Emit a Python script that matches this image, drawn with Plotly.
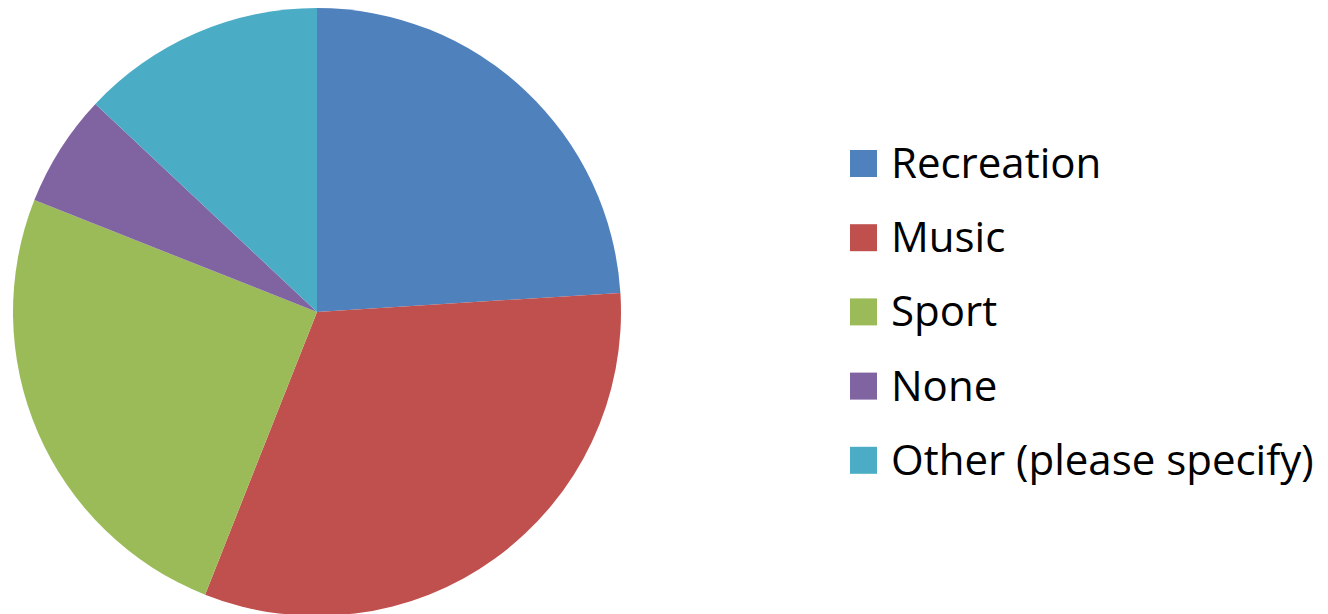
import plotly.graph_objects as go

labels = ["Recreation", "Music", "Sport", "None", "Other (please specify)"]
values = [24, 32, 25, 6, 13]
colors = ["#4F81BD", "#C0504D", "#9BBB59", "#8064A2", "#4BACC6"]

W, H = 1328, 614
OFF = 8  # page body margin offset

def px_x(x):
    return (x - OFF) / W

def px_y(y):
    return 1 - (y - OFF) / H

fig = go.Figure(go.Pie(
    labels=labels,
    values=values,
    sort=False,
    direction="clockwise",
    rotation=0,
    textinfo="none",
    hoverinfo="label+percent",
    marker=dict(colors=colors, line=dict(width=0)),
    domain=dict(x=[px_x(13), px_x(621)], y=[px_y(616), px_y(8)]),
    showlegend=False,
))

# Custom legend (large square swatches, Office-style spacing)
first_center = 163.5
step = 74.2
sq = 27
sq_left = 850
text_left = 889
shapes, annotations = [], []
for i, (lab, col) in enumerate(zip(labels, colors)):
    cy = first_center + i * step
    shapes.append(dict(type="rect", xref="paper", yref="paper",
                       x0=px_x(sq_left), x1=px_x(sq_left + sq),
                       y0=px_y(cy + sq / 2), y1=px_y(cy - sq / 2),
                       fillcolor=col, line=dict(width=0)))
    annotations.append(dict(xref="paper", yref="paper", x=px_x(text_left),
                            y=px_y(cy - 2), xanchor="left", yanchor="middle",
                            text=lab, showarrow=False,
                            font=dict(family="Open Sans", size=42, color="#000000")))

fig.update_layout(
    width=W, height=H,
    margin=dict(l=0, r=0, t=0, b=0),
    paper_bgcolor="white",
    plot_bgcolor="white",
    shapes=shapes,
    annotations=annotations,
)

fig.write_html("out.html")
